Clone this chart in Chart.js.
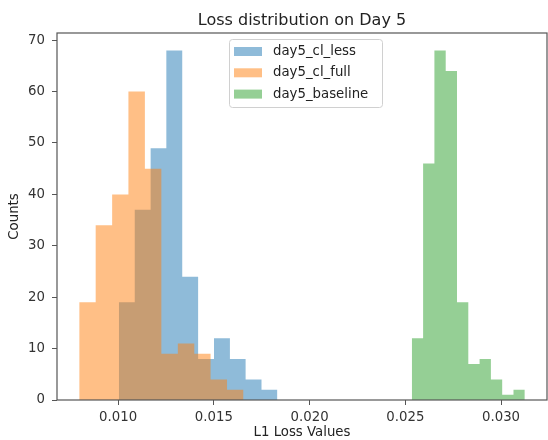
<!DOCTYPE html>
<html>
<head>
<meta charset="utf-8">
<script src="https://cdn.jsdelivr.net/npm/chart.js@4/dist/chart.umd.min.js"></script>
<style>
  html, body { margin: 0; padding: 0; background: #fff; }
  #wrap { width: 548px; height: 440px; position: relative; }
</style>
</head>
<body>
<div id="wrap"><canvas id="lossHist"></canvas></div>
<script>
// histogram bin edges (11 edges -> 10 bins) and counts
const lessEdges = [0.01004, 0.01087, 0.01170, 0.01252, 0.01335, 0.01418, 0.01501, 0.01584, 0.01666, 0.01749, 0.01832];
const lessCounts = [19, 37, 49, 68, 24, 8, 12, 8, 4, 2];

const fullEdges = [0.00797, 0.00883, 0.00969, 0.01054, 0.01140, 0.01226, 0.01312, 0.01398, 0.01483, 0.01569, 0.01655];
const fullCounts = [19, 34, 40, 60, 45, 9, 11, 9, 4, 2];

const baseEdges = [0.02534, 0.02593, 0.02652, 0.02711, 0.02770, 0.02829, 0.02888, 0.02947, 0.03006, 0.03065, 0.03124];
const baseCounts = [12, 46, 68, 64, 19, 7, 8, 4, 1, 2];

const seriesLabels = ['day5_cl_less', 'day5_cl_full', 'day5_baseline'];
const xTicks = [0.010, 0.015, 0.020, 0.025, 0.030];
const yTicks = [0, 10, 20, 30, 40, 50, 60, 70];

const chartTitle = 'Loss distribution on Day 5';
const xLabel = 'L1 Loss Values';
const yLabel = 'Counts';

const FONT = "'DejaVu Sans', sans-serif";
const colors = ['rgba(31,119,180,0.5)', 'rgba(255,127,14,0.5)', 'rgba(44,160,44,0.5)'];

// turn edges + counts into step points (last edge repeats last count)
function histPoints(edges, counts) {
    const pts = counts.map((c, i) => ({ x: edges[i], y: c }));
    pts.push({ x: edges[edges.length - 1], y: counts[counts.length - 1] });
    return pts;
}

function histDataset(label, edges, counts, color, order) {
    return {
        label: label,
        data: histPoints(edges, counts),
        stepped: 'before',
        fill: 'origin',
        backgroundColor: color,
        borderColor: 'rgba(0,0,0,0)',
        borderWidth: 0,
        pointRadius: 0,
        pointHoverRadius: 0,
        order: order
    };
}

// frame, title, axis labels and a matplotlib style legend box
const decoPlugin = {
    id: 'deco',
    afterDatasetsDraw(chart) {
        const { ctx, chartArea: a } = chart;
        const midX = (a.left + a.right) / 2;
        ctx.save();
        ctx.strokeStyle = '#555';
        ctx.lineWidth = 1.2;
        ctx.strokeRect(a.left, a.top, a.right - a.left, a.bottom - a.top);

        ctx.fillStyle = '#222';
        ctx.textAlign = 'center';
        ctx.textBaseline = 'alphabetic';
        ctx.font = '16px ' + FONT;
        ctx.fillText(chartTitle, midX, 25);

        ctx.font = '13.3px ' + FONT;
        ctx.textBaseline = 'middle';
        ctx.fillText(xLabel, midX, 433);
        ctx.save();
        ctx.translate(15, (a.top + a.bottom) / 2);
        ctx.rotate(-Math.PI / 2);
        ctx.fillText(yLabel, 0, 0);
        ctx.restore();

        // legend
        const bx = 229, by = 39, bw = 153, bh = 68;
        ctx.fillStyle = 'rgba(255,255,255,0.8)';
        ctx.strokeStyle = '#d0d0d0';
        ctx.lineWidth = 1;
        ctx.beginPath();
        ctx.roundRect(bx + 0.5, by + 0.5, bw, bh, 3);
        ctx.fill();
        ctx.stroke();
        ctx.font = '13.3px ' + FONT;
        ctx.textAlign = 'left';
        seriesLabels.forEach((lab, i) => {
            const cy = 51.5 + i * 21.3;
            ctx.fillStyle = colors[i];
            ctx.fillRect(234, cy - 4.5, 28, 9);
            ctx.fillStyle = '#222';
            ctx.fillText(lab, 273, cy);
        });
        ctx.restore();
    }
};

const ctx = document.getElementById('lossHist').getContext('2d');
const lossChart = new Chart(ctx, {
    type: 'line',
    data: {
        datasets: [
            histDataset(seriesLabels[0], lessEdges, lessCounts, colors[0], 3),
            histDataset(seriesLabels[1], fullEdges, fullCounts, colors[1], 2),
            histDataset(seriesLabels[2], baseEdges, baseCounts, colors[2], 1)
        ]
    },
    options: {
        responsive: true,
        maintainAspectRatio: false,
        animation: false,
        layout: { padding: { left: 0, top: 33, right: 1, bottom: 0 } },
        plugins: {
            legend: { display: false },
            tooltip: { enabled: false },
            title: { display: false }
        },
        scales: {
            x: {
                type: 'linear',
                min: 0.00681,
                max: 0.03240,
                afterBuildTicks: scale => { scale.ticks = xTicks.map(v => ({ value: v })); },
                afterFit: scale => { scale.height = 40; },
                ticks: {
                    color: '#333',
                    padding: 5,
                    maxRotation: 0,
                    font: { family: FONT, size: 13.3 },
                    callback: v => v.toFixed(3)
                },
                grid: { drawOnChartArea: false, drawTicks: true, tickLength: 5, color: '#555' },
                border: { display: false }
            },
            y: {
                min: 0,
                max: 71.4,
                afterBuildTicks: scale => { scale.ticks = yTicks.map(v => ({ value: v })); },
                afterFit: scale => { scale.width = 57; },
                ticks: {
                    color: '#333',
                    padding: 7,
                    font: { family: FONT, size: 13.3 }
                },
                grid: { drawOnChartArea: false, drawTicks: true, tickLength: 5, color: '#555' },
                border: { display: false }
            }
        }
    },
    plugins: [decoPlugin]
});
</script>
</body>
</html>
